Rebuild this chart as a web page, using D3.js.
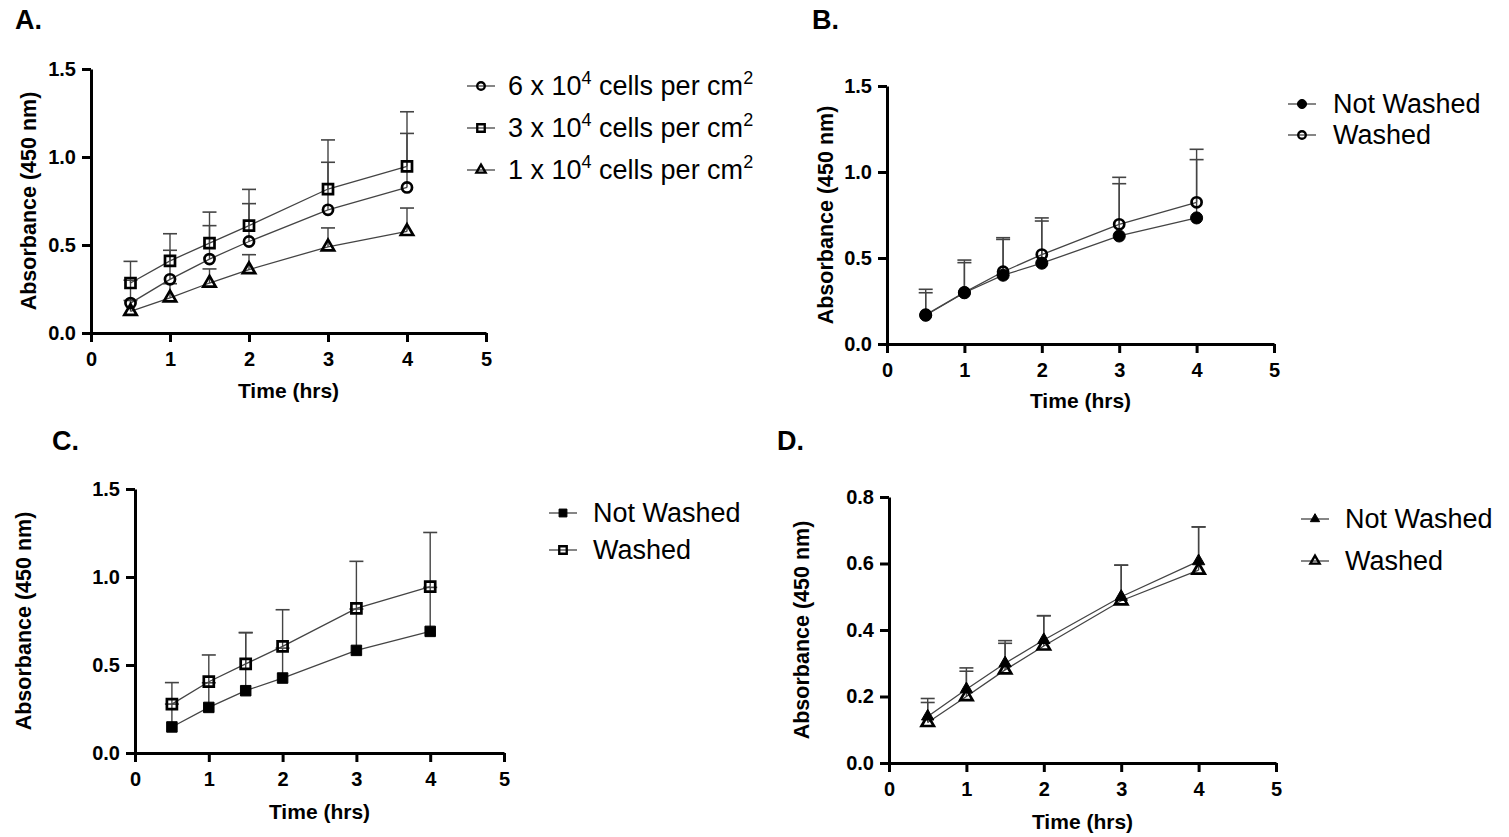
<!DOCTYPE html>
<html>
<head>
<meta charset="utf-8">
<script src="https://cdn.jsdelivr.net/npm/d3@7"></script>
<style>
  body { margin: 0; background: #fff; }
  svg { display: block; font-family: "Liberation Sans", Arial, sans-serif; }
</style>
</head>
<body>
<svg id="fig" width="1509" height="837"></svg>
<script>
// time points (hrs)
const times = [0.5, 1, 1.5, 2, 3, 4];
const xTicks = [0, 1, 2, 3, 4, 5];

// A. seeding density
const a6Mean = [0.17, 0.305, 0.42, 0.52, 0.70, 0.827];
const a6Sd   = [0.13, 0.165, 0.19, 0.215, 0.27, 0.307];
const a3Mean = [0.284, 0.41, 0.511, 0.61, 0.818, 0.947];
const a3Sd   = [0.123, 0.154, 0.176, 0.206, 0.279, 0.31];
const a1Mean = [0.123, 0.20, 0.284, 0.36, 0.49, 0.577];
const a1Sd   = [0.062, 0.08, 0.08, 0.085, 0.107, 0.133];

// B. 6 x 10^4
const bNotMean  = [0.167, 0.298, 0.40, 0.47, 0.628, 0.733];
const bNotSd    = [0.131, 0.175, 0.208, 0.245, 0.304, 0.339];
const bWashMean = [0.17, 0.30, 0.42, 0.52, 0.696, 0.824];
const bWashSd   = [0.148, 0.188, 0.198, 0.213, 0.273, 0.308];

// C. 3 x 10^4
const cNotMean  = [0.148, 0.259, 0.354, 0.426, 0.583, 0.691];
const cNotSd    = [0.13, 0.14, 0.33, 0.17, 0.235, 0.25];
const cWashMean = [0.278, 0.405, 0.506, 0.606, 0.822, 0.945];
const cWashSd   = [0.122, 0.152, 0.178, 0.208, 0.267, 0.308];

// D. 1 x 10^4
const dNotMean  = [0.14, 0.222, 0.30, 0.37, 0.50, 0.607];
const dNotSd    = [0.054, 0.064, 0.068, 0.073, 0.095, 0.103];
const dWashMean = [0.122, 0.20, 0.28, 0.352, 0.488, 0.58];
const dWashSd   = [0.06, 0.076, 0.08, 0.091, 0.107, 0.13];

const yTicks15 = [0, 0.5, 1.0, 1.5];
const yTicks08 = [0, 0.2, 0.4, 0.6, 0.8];

const lineColor = "#444";
let svg = d3.select("#fig");

// marker drawing, shape = circle | square | triangle
function drawMarker(g, shape, filled, x, y, scale) {
    let s = scale || 1;
    let type = shape === "circle" ? d3.symbolCircle : shape === "square" ? d3.symbolSquare : d3.symbolTriangle;
    let size = shape === "circle" ? 80 : shape === "square" ? 100 : 66;
    if (filled && shape === "circle") size = 115;
    if (filled && shape === "square") size = 110;
    g.append("path")
        .attr("d", d3.symbol().type(type).size(size * s * s)())
        .attr("transform", "translate(" + x + "," + y + ")")
        .style("fill", filled ? "#000" : "none")
        .style("stroke", "#000")
        .style("stroke-width", filled ? 1 : 2.7 * Math.sqrt(s));
}

function drawPanel(p) {
    let g = svg.append("g");
    let x = d3.scaleLinear().domain([0, 5]).range([p.left, p.right]);
    let y = d3.scaleLinear().domain([0, p.yMax]).range([p.bottom, p.top]);

    // panel letter
    svg.append("text").attr("x", p.letterX).attr("y", p.letterY)
        .style("font-size", "27px").style("font-weight", "bold").text(p.letter);

    // axes
    let xAxis = d3.axisBottom(x).tickValues(xTicks).tickFormat(d3.format("d"))
        .tickSize(9).tickSizeOuter(0).tickPadding(6);
    let yAxis = d3.axisLeft(y).tickValues(p.yTicks).tickFormat(d3.format(".1f"))
        .tickSize(9).tickSizeOuter(0).tickPadding(6);
    let gx = g.append("g").attr("transform", "translate(0," + p.bottom + ")").call(xAxis);
    let gy = g.append("g").attr("transform", "translate(" + p.left + ",0)").call(yAxis);
    [gx, gy].forEach(function (a) {
        a.attr("font-size", 20).attr("font-family", "'Liberation Sans', Arial, sans-serif");
        a.select(".domain").style("stroke", "#000").style("stroke-width", 3);
        a.selectAll(".tick line").style("stroke", "#000").style("stroke-width", 3);
        a.selectAll(".tick text").style("font-size", "20px").style("font-weight", "bold").style("fill", "#000");
    });
    gx.selectAll(".tick text").attr("dy", "0.9em");

    // axis titles
    g.append("text")
        .attr("x", (p.left + p.right) / 2).attr("y", p.xTitleY)
        .attr("text-anchor", "middle").attr("dominant-baseline", "middle")
        .style("font-size", "21px").style("font-weight", "bold").text("Time (hrs)");
    g.append("text")
        .attr("transform", "translate(" + p.yTitleX + "," + (p.top + p.bottom) / 2 + ") rotate(-90)")
        .attr("text-anchor", "middle").attr("dominant-baseline", "middle")
        .style("font-size", "21.5px").style("font-weight", "bold").text("Absorbance (450 nm)");

    let line = d3.line().x(function (d) { return x(d[0]); }).y(function (d) { return y(d[1]); });

    p.series.forEach(function (s) {
        let pts = times.map(function (t, i) { return [t, s.mean[i], s.sd[i]]; });
        // connecting line
        g.append("path").datum(pts).attr("d", line)
            .style("fill", "none").style("stroke", lineColor).style("stroke-width", 1.3);
        // upper error bars
        let eb = g.append("g");
        pts.forEach(function (d) {
            let cx = x(d[0]), y0 = y(d[1]), y1 = y(d[1] + d[2]);
            eb.append("line").attr("x1", cx).attr("x2", cx).attr("y1", y0).attr("y2", y1)
                .style("stroke", lineColor).style("stroke-width", 1.4);
            eb.append("line").attr("x1", cx - 7).attr("x2", cx + 7).attr("y1", y1).attr("y2", y1)
                .style("stroke", lineColor).style("stroke-width", 1.6);
        });
    });
    // markers on top
    p.series.forEach(function (s) {
        let mg = g.append("g");
        times.forEach(function (t, i) {
            drawMarker(mg, s.shape, s.filled, x(t), y(s.mean[i]), 1);
        });
    });

    // legend
    let lg = svg.append("g");
    p.series.forEach(function (s, i) {
        let ly = p.legY + i * p.legStep;
        lg.append("line").attr("x1", p.legX - 14).attr("x2", p.legX + 14)
            .attr("y1", ly).attr("y2", ly).style("stroke", lineColor).style("stroke-width", 1.3);
        drawMarker(lg, s.shape, s.filled, p.legX, ly, 0.75);
        let t = lg.append("text").attr("x", p.legX + p.legGap).attr("y", ly + 9)
            .style("font-size", "27px");
        let raised = false;
        s.label.forEach(function (part) {
            if (part.sup) {
                t.append("tspan").attr("dy", "-11").style("font-size", "18px").text(part.sup);
                raised = true;
            } else {
                let ts = t.append("tspan").text(part.txt);
                if (raised) { ts.attr("dy", "11"); raised = false; }
            }
        });
    });
}

function cellsLabel(n) {
    return [{ txt: n + " x 10" }, { sup: "4" }, { txt: " cells per cm" }, { sup: "2" }];
}

drawPanel({
    letter: "A.", letterX: 15, letterY: 29,
    left: 91, right: 486, top: 69, bottom: 333, yMax: 1.5, yTicks: yTicks15,
    xTitleY: 392, yTitleX: 30,
    legX: 481, legY: 86, legStep: 42, legGap: 27,
    series: [
        { shape: "circle", filled: false, mean: a6Mean, sd: a6Sd, label: cellsLabel(6) },
        { shape: "square", filled: false, mean: a3Mean, sd: a3Sd, label: cellsLabel(3) },
        { shape: "triangle", filled: false, mean: a1Mean, sd: a1Sd, label: cellsLabel(1) }
    ]
});

drawPanel({
    letter: "B.", letterX: 812, letterY: 29,
    left: 887, right: 1274, top: 86, bottom: 344, yMax: 1.5, yTicks: yTicks15,
    xTitleY: 402, yTitleX: 827,
    legX: 1302, legY: 104, legStep: 31, legGap: 31,
    series: [
        { shape: "circle", filled: true, mean: bNotMean, sd: bNotSd, label: [{ txt: "Not Washed" }] },
        { shape: "circle", filled: false, mean: bWashMean, sd: bWashSd, label: [{ txt: "Washed" }] }
    ]
});

drawPanel({
    letter: "C.", letterX: 52, letterY: 450,
    left: 135, right: 504, top: 489, bottom: 753, yMax: 1.5, yTicks: yTicks15,
    xTitleY: 813, yTitleX: 25,
    legX: 563, legY: 513, legStep: 37, legGap: 30,
    series: [
        { shape: "square", filled: true, mean: cNotMean, sd: cNotSd, label: [{ txt: "Not Washed" }] },
        { shape: "square", filled: false, mean: cWashMean, sd: cWashSd, label: [{ txt: "Washed" }] }
    ]
});

drawPanel({
    letter: "D.", letterX: 777, letterY: 450,
    left: 889, right: 1276, top: 497, bottom: 763, yMax: 0.8, yTicks: yTicks08,
    xTitleY: 823, yTitleX: 803,
    legX: 1315, legY: 519, legStep: 42, legGap: 30,
    series: [
        { shape: "triangle", filled: true, mean: dNotMean, sd: dNotSd, label: [{ txt: "Not Washed" }] },
        { shape: "triangle", filled: false, mean: dWashMean, sd: dWashSd, label: [{ txt: "Washed" }] }
    ]
});
</script>
</body>
</html>
